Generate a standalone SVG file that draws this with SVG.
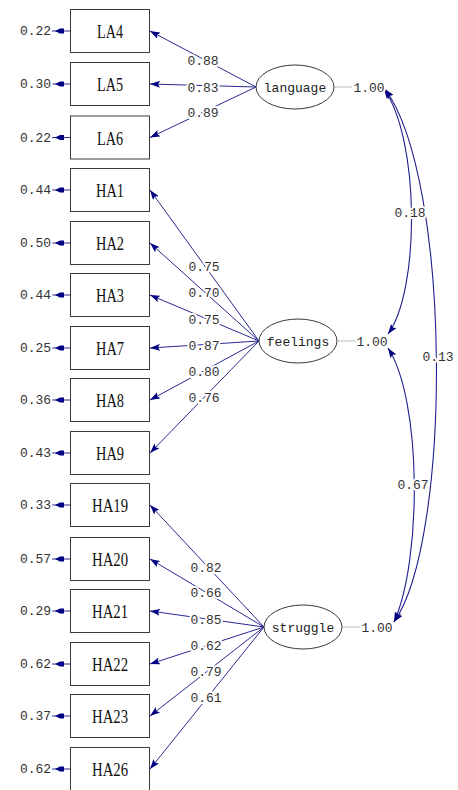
<svg xmlns="http://www.w3.org/2000/svg" width="458" height="790" viewBox="0 0 458 790">
<style>
.box{fill:#fff;stroke:#3a3a3a;stroke-width:1}
.lat{fill:#fff;stroke:#3a3a3a;stroke-width:1}
.vl{font-family:"Liberation Serif","Times New Roman",serif;font-size:19px;fill:#111;text-anchor:middle}
.ll{font-family:"Liberation Mono","Courier New",monospace;font-size:13px;fill:#222;text-anchor:middle}
.num{font-family:"Liberation Mono","Courier New",monospace;font-size:13px;fill:#333;text-anchor:middle;stroke:#fff;stroke-width:4px;paint-order:stroke;stroke-linejoin:round}
.ln{fill:none;stroke:#2a2a92;stroke-width:1}
.ld{fill:none;stroke:#2a2a92;stroke-width:1;marker-end:url(#ah)}
.cv{fill:none;stroke:#1e1e8c;stroke-width:1.1;marker-start:url(#ah);marker-end:url(#ah)}
.gl{stroke:#bdbdbd;stroke-width:1.2}
.eh{fill:#000080}
</style>
<defs>
<marker id="ah" markerUnits="userSpaceOnUse" viewBox="0 0 10 7" refX="10" refY="3.5" markerWidth="10" markerHeight="7" orient="auto-start-reverse">
<path d="M0,0 L10,3.5 L0,7 L2,3.5 z" fill="#000080"/>
</marker>
</defs>

<g id="connectors">
<!-- error arrows -->
<g id="errors">
<path class="ln" d="M52,31H70M52,84H70M52,137.5H70M52,190H70M52,243H70M52,295H70M52,348H70M52,400H70M52,453H70M52,505H70M52,559H70M52,611H70M52,664H70M52,716H70M52,769H70"/>
<path class="eh" d="M55,31l5,-2.5h4v5h-4zM55,84l5,-2.5h4v5h-4zM55,137.5l5,-2.5h4v5h-4zM55,190l5,-2.5h4v5h-4zM55,243l5,-2.5h4v5h-4zM55,295l5,-2.5h4v5h-4zM55,348l5,-2.5h4v5h-4zM55,400l5,-2.5h4v5h-4zM55,453l5,-2.5h4v5h-4zM55,505l5,-2.5h4v5h-4zM55,559l5,-2.5h4v5h-4zM55,611l5,-2.5h4v5h-4zM55,664l5,-2.5h4v5h-4zM55,716l5,-2.5h4v5h-4zM55,769l5,-2.5h4v5h-4z"/>
</g>
<!-- loadings -->
<path class="ld" d="M256,87L150,31"/>
<path class="ld" d="M256,87L150,84"/>
<path class="ld" d="M256,87L150,137.5"/>
<path class="ld" d="M259,341L150,190"/>
<path class="ld" d="M259,341L150,243"/>
<path class="ld" d="M259,341L150,295"/>
<path class="ld" d="M259,341L150,348"/>
<path class="ld" d="M259,341L150,400"/>
<path class="ld" d="M259,341L150,453"/>
<path class="ld" d="M264,627L150,505"/>
<path class="ld" d="M264,627L150,559"/>
<path class="ld" d="M264,627L150,611"/>
<path class="ld" d="M264,627L150,664"/>
<path class="ld" d="M264,627L150,716"/>
<path class="ld" d="M264,627L150,769"/>
<!-- variance ticks -->
<path class="gl" d="M334,87H352M338,341H356M343,627H360"/>
<!-- covariances -->
<path class="cv" d="M384,89C420,140 420,290 388,334"/>
<path class="cv" d="M385,89C452,180 452,540 394,622"/>
<path class="cv" d="M388,348C422,400 422,560 394,622"/>
<!-- loading labels -->
<text class="num" x="203" y="65">0.88</text>
<text class="num" x="203" y="92">0.83</text>
<text class="num" x="203" y="117">0.89</text>
<text class="num" x="204" y="271">0.75</text>
<text class="num" x="204" y="297">0.70</text>
<text class="num" x="204" y="324">0.75</text>
<text class="num" x="204" y="350">0.87</text>
<text class="num" x="204" y="376">0.80</text>
<text class="num" x="204" y="402">0.76</text>
<text class="num" x="206" y="572">0.82</text>
<text class="num" x="206" y="597">0.66</text>
<text class="num" x="206" y="624">0.85</text>
<text class="num" x="206" y="650">0.62</text>
<text class="num" x="206" y="676">0.79</text>
<text class="num" x="206" y="702">0.61</text>
<text class="num" x="410" y="217">0.18</text>
<text class="num" x="438" y="361">0.13</text>
<text class="num" x="413" y="489">0.67</text>
</g>

<g id="errlabels">
<text class="num" x="35.5" y="35">0.22</text>
<text class="num" x="35.5" y="88">0.30</text>
<text class="num" x="35.5" y="141.5">0.22</text>
<text class="num" x="35.5" y="194">0.44</text>
<text class="num" x="35.5" y="247">0.50</text>
<text class="num" x="35.5" y="299">0.44</text>
<text class="num" x="35.5" y="352">0.25</text>
<text class="num" x="35.5" y="404">0.36</text>
<text class="num" x="35.5" y="457">0.43</text>
<text class="num" x="35.5" y="509">0.33</text>
<text class="num" x="35.5" y="563">0.57</text>
<text class="num" x="35.5" y="615">0.29</text>
<text class="num" x="35.5" y="668">0.62</text>
<text class="num" x="35.5" y="720">0.37</text>
<text class="num" x="35.5" y="773">0.62</text>
</g>

<g id="LA4"><rect class="box" x="70.5" y="9.5" width="79" height="43"/><text class="vl" x="110" y="38" textLength="26" lengthAdjust="spacingAndGlyphs">LA4</text></g>
<g id="LA5"><rect class="box" x="70.5" y="62.5" width="79" height="43"/><text class="vl" x="110" y="91" textLength="26" lengthAdjust="spacingAndGlyphs">LA5</text></g>
<g id="LA6"><rect class="box" x="70.5" y="116" width="79" height="43"/><text class="vl" x="110" y="144.5" textLength="26" lengthAdjust="spacingAndGlyphs">LA6</text></g>
<g id="HA1"><rect class="box" x="70.5" y="168.5" width="79" height="43"/><text class="vl" x="110" y="197" textLength="28" lengthAdjust="spacingAndGlyphs">HA1</text></g>
<g id="HA2"><rect class="box" x="70.5" y="221.5" width="79" height="43"/><text class="vl" x="110" y="250" textLength="28" lengthAdjust="spacingAndGlyphs">HA2</text></g>
<g id="HA3"><rect class="box" x="70.5" y="273.5" width="79" height="43"/><text class="vl" x="110" y="302" textLength="28" lengthAdjust="spacingAndGlyphs">HA3</text></g>
<g id="HA7"><rect class="box" x="70.5" y="326.5" width="79" height="43"/><text class="vl" x="110" y="355" textLength="28" lengthAdjust="spacingAndGlyphs">HA7</text></g>
<g id="HA8"><rect class="box" x="70.5" y="378.5" width="79" height="43"/><text class="vl" x="110" y="407" textLength="28" lengthAdjust="spacingAndGlyphs">HA8</text></g>
<g id="HA9"><rect class="box" x="70.5" y="431.5" width="79" height="43"/><text class="vl" x="110" y="460" textLength="28" lengthAdjust="spacingAndGlyphs">HA9</text></g>
<g id="HA19"><rect class="box" x="70.5" y="483.5" width="79" height="43"/><text class="vl" x="110" y="512" textLength="36" lengthAdjust="spacingAndGlyphs">HA19</text></g>
<g id="HA20"><rect class="box" x="70.5" y="537.5" width="79" height="43"/><text class="vl" x="110" y="566" textLength="36" lengthAdjust="spacingAndGlyphs">HA20</text></g>
<g id="HA21"><rect class="box" x="70.5" y="589.5" width="79" height="43"/><text class="vl" x="110" y="618" textLength="36" lengthAdjust="spacingAndGlyphs">HA21</text></g>
<g id="HA22"><rect class="box" x="70.5" y="642.5" width="79" height="43"/><text class="vl" x="110" y="671" textLength="36" lengthAdjust="spacingAndGlyphs">HA22</text></g>
<g id="HA23"><rect class="box" x="70.5" y="694.5" width="79" height="43"/><text class="vl" x="110" y="723" textLength="36" lengthAdjust="spacingAndGlyphs">HA23</text></g>
<g id="HA26"><rect class="box" x="70.5" y="747.5" width="79" height="43"/><text class="vl" x="110" y="776" textLength="36" lengthAdjust="spacingAndGlyphs">HA26</text></g>

<g id="language"><ellipse class="lat" cx="295" cy="87" rx="39" ry="22"/><text class="ll" x="295" y="92">language</text></g>
<g id="feelings"><ellipse class="lat" cx="298" cy="341" rx="39" ry="22"/><text class="ll" x="298" y="346">feelings</text></g>
<g id="struggle"><ellipse class="lat" cx="303" cy="627" rx="39" ry="22"/><text class="ll" x="303" y="632">struggle</text></g>

<g id="variances">
<text class="num" x="369" y="92">1.00</text>
<text class="num" x="372" y="346">1.00</text>
<text class="num" x="377" y="632">1.00</text>
</g>
</svg>
